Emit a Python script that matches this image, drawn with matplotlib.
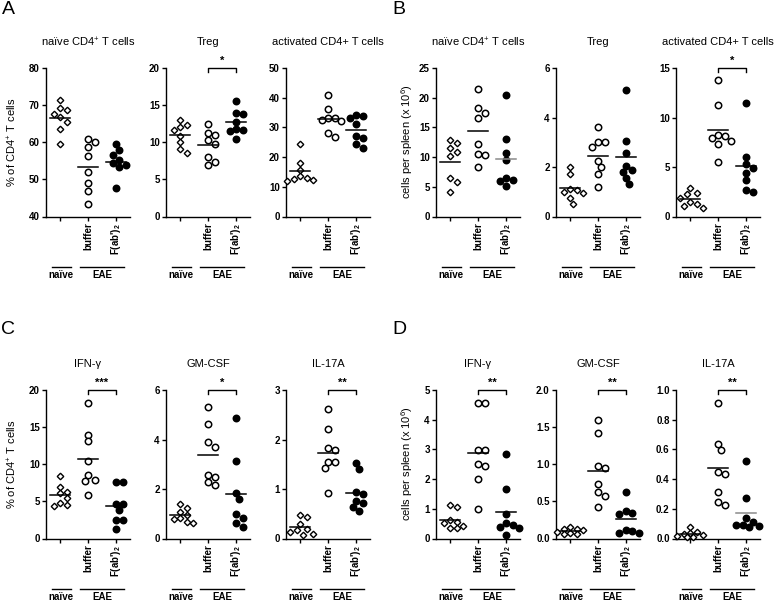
import numpy as np
import matplotlib.pyplot as plt

plt.rcParams['font.family'] = ['Liberation Sans', 'DejaVu Sans']
plt.rcParams['mathtext.fontset'] = 'custom'
plt.rcParams['mathtext.rm'] = 'Liberation Sans'
plt.rcParams['mathtext.it'] = 'Liberation Sans:italic'
plt.rcParams['mathtext.bf'] = 'Liberation Sans:bold'

# ---- data (8 mice per group) ----
# A: % of CD4+ T cells
a1_naive = [71.5, 69.1, 68.8, 67.7, 66.9, 65.5, 63.5, 59.6]
a1_buffer = [61.0, 60.0, 58.7, 56.2, 52.0, 49.0, 46.8, 43.3]
a1_fab = [59.5, 57.8, 56.5, 55.2, 54.5, 53.8, 53.3, 47.8]
a2_naive = [13.0, 12.3, 12.0, 11.6, 10.9, 10.0, 9.1, 8.5]
a2_buffer = [12.5, 11.3, 11.0, 10.3, 9.7, 8.0, 7.4, 7.0]
a2_fab = [15.6, 14.0, 13.8, 12.7, 11.8, 11.6, 11.5, 10.5]
a3_naive = [24.3, 18.0, 15.8, 13.5, 13.0, 12.6, 12.3, 12.0]
a3_buffer = [41.0, 36.3, 33.2, 33.0, 32.5, 32.0, 28.1, 26.8]
a3_fab = [34.1, 33.9, 33.0, 31.3, 27.0, 26.5, 24.3, 23.2]

# B: cells per spleen (x 10^6)
b1_naive = [12.8, 12.3, 11.5, 10.9, 10.2, 6.4, 5.8, 4.1]
b1_buffer = [21.4, 18.2, 17.5, 16.6, 12.2, 10.6, 10.3, 8.35]
b1_fab = [20.4, 13.1, 10.7, 9.5, 6.4, 6.2, 5.9, 5.1]
b2_naive = [1.98, 1.70, 1.13, 1.06, 1.0, 0.95, 0.75, 0.5]
b2_buffer = [3.62, 2.99, 2.99, 2.8, 2.25, 2.02, 1.73, 1.2]
b2_fab = [5.1, 3.05, 2.55, 2.03, 1.87, 1.8, 1.57, 1.33]
b3_naive = [2.9, 2.4, 2.25, 1.9, 1.5, 1.25, 1.1, 0.85]
b3_buffer = [13.8, 11.3, 8.2, 8.1, 7.9, 7.6, 7.3, 5.5]
b3_fab = [11.5, 6.0, 5.3, 4.9, 4.4, 3.65, 2.7, 2.5]

# C: % of CD4+ T cells (cytokines)
c1_naive = [8.4, 7.0, 6.3, 6.1, 5.4, 4.8, 4.5, 4.4]
c1_buffer = [18.3, 14.0, 13.1, 10.4, 8.5, 7.9, 7.7, 5.8]
c1_fab = [7.6, 7.6, 4.7, 4.7, 3.9, 2.5, 2.5, 1.3]
c2_naive = [1.38, 1.25, 1.08, 0.94, 0.81, 0.77, 0.67, 0.63]
c2_buffer = [5.32, 4.62, 3.91, 3.71, 2.56, 2.49, 2.29, 2.18]
c2_fab = [4.85, 3.13, 1.85, 1.59, 0.97, 0.84, 0.63, 0.47]
c3_naive = [0.48, 0.44, 0.30, 0.20, 0.17, 0.13, 0.10, 0.08]
c3_buffer = [2.62, 2.21, 1.82, 1.79, 1.55, 1.54, 1.43, 0.91]
c3_fab = [1.52, 1.40, 0.94, 0.89, 0.76, 0.72, 0.63, 0.56]

# D: cells per spleen (x 10^6) (cytokines)
d1_naive = [1.12, 1.07, 0.62, 0.56, 0.51, 0.43, 0.37, 0.34]
d1_buffer = [4.57, 4.55, 2.98, 2.98, 2.5, 2.45, 2.02, 0.99]
d1_fab = [2.84, 1.66, 0.84, 0.51, 0.47, 0.39, 0.34, 0.11]
d2_naive = [0.16, 0.13, 0.126, 0.11, 0.09, 0.08, 0.067, 0.054]
d2_buffer = [1.6, 1.42, 0.98, 0.955, 0.73, 0.63, 0.57, 0.43]
d2_fab = [0.63, 0.37, 0.35, 0.33, 0.12, 0.10, 0.08, 0.07]
d3_naive = [0.079, 0.045, 0.034, 0.027, 0.022, 0.018, 0.013, 0.009]
d3_buffer = [0.91, 0.634, 0.596, 0.45, 0.434, 0.315, 0.247, 0.225]
d3_fab = [0.52, 0.27, 0.135, 0.112, 0.094, 0.09, 0.083, 0.079]

cell_titles = ['naïve CD4$^{+}$ T cells', 'Treg', 'activated CD4+ T cells']
cyto_titles = ['IFN-γ', 'GM-CSF', 'IL-17A']
xtick_labels = ['', 'buffer', r"F(ab')$_{\mathbf{2}}$"]
pct_label = '% of CD4$^{+}$ T cells'
count_label = 'cells per spleen (x 10$^{6}$)'

# (ymin, ymax, step, decimals) per panel
a_axes = [(40, 80, 10, 0), (0, 20, 5, 0), (0, 50, 10, 0)]
b_axes = [(0, 25, 5, 0), (0, 6, 2, 0), (0, 15, 5, 0)]
c_axes = [(0, 20, 5, 0), (0, 6, 2, 0), (0, 3, 1, 0)]
d_axes = [(0, 5, 1, 0), (0, 2, 0.5, 1), (0, 1, 0.2, 1)]

a_stars = [None, '*', None]
b_stars = [None, None, '*']
c_stars = ['***', '*', '**']
d_stars = ['**', '**', '**']

# ---- layout (pixels) ----
W, H = 778, 601
col_left = [46, 166, 286, 436, 556, 676]
row_top = [68, 390]
AX_W, AX_H = 84, 148.5
PX_PER_X = AX_W / 3.0


def swarm(vals, px_per_y, d=6.5, max_k=4):
    # simple beeswarm: place points top-down, nudging sideways on collision,
    # with a limited spread (points pile up when crowded, like the original)
    vals = np.asarray(vals, float)
    xs = np.zeros(len(vals))
    placed = []
    cands = [0.0]
    for k in range(1, max_k + 1):
        cands += [k * d / 2, -k * d / 2]
    for i in np.argsort(-vals):
        y = vals[i] * px_per_y
        best, best_gap = 0.0, -1
        for c in cands:
            gap = min([np.hypot(c - px, y - py) for px, py in placed] or [99])
            if gap >= d:
                best = c
                break
            if gap > best_gap + 0.5:
                best, best_gap = c, gap
        placed.append((best, y))
        xs[i] = best / PX_PER_X
    return xs


def draw_panel(left, top, groups, title, yspec, star, mean_gray=()):
    ymin, ymax, step, dec = yspec
    ax = fig.add_axes([left / W, 1 - (top + AX_H) / H, AX_W / W, AX_H / H])
    px_per_y = AX_H / (ymax - ymin)

    styles = [dict(marker='D', ms=3.3, mfc='white', mec='black', mew=1.0),
              dict(marker='o', ms=4.6, mfc='white', mec='black', mew=1.1),
              dict(marker='o', ms=4.6, mfc='black', mec='black', mew=1.1)]
    for g, vals in enumerate(groups):
        xo = swarm(vals, px_per_y)
        ax.plot(g + xo, vals, ls='none', clip_on=False, zorder=3, **styles[g])
        m = np.mean(vals)
        col = '#8a8a8a' if g in mean_gray else 'black'
        ax.plot([g - 0.36, g + 0.36], [m, m], color=col, lw=1.1, zorder=4)

    ax.set_xlim(-0.5, 2.5)
    ax.set_ylim(ymin, ymax)
    ticks = np.arange(ymin, ymax + step / 2, step)
    ax.set_yticks(ticks)
    ax.set_yticklabels([f'{t:.{dec}f}' for t in ticks], fontweight='bold', fontsize=7)
    ax.set_xticks([0, 1, 2])
    ax.set_xticklabels(xtick_labels, rotation=90, fontweight='bold', fontsize=7)
    for s in ['top', 'right']:
        ax.spines[s].set_visible(False)
    for s in ['left', 'bottom']:
        ax.spines[s].set_linewidth(1.0)
    ax.tick_params(direction='out', length=3, width=1.0, pad=1.5)

    # group bars below the axis
    tr = ax.get_xaxis_transform()
    yl = -50 / AX_H
    ax.plot([-0.3, 0.38], [yl, yl], color='black', lw=1.0, transform=tr, clip_on=False)
    ax.plot([0.71, 2.29], [yl, yl], color='black', lw=1.0, transform=tr, clip_on=False)
    ax.text(0.04, yl - 9 / AX_H, 'naïve', transform=tr, ha='center', va='center',
            fontsize=7, fontweight='bold')
    ax.text(1.5, yl - 9 / AX_H, 'EAE', transform=tr, ha='center', va='center',
            fontsize=7, fontweight='bold')

    # significance bracket buffer vs F(ab')2
    if star:
        h = 3.5 / AX_H
        ax.plot([1, 1, 2, 2], [1 - h, 1, 1, 1 - h], color='black', lw=1.0,
                transform=tr, clip_on=False)
        ax.text(1.5, 1 + 7 / AX_H, star, transform=tr, ha='center', va='center',
                fontsize=8, fontweight='bold')

    fig.text((left + AX_W / 2) / W, 1 - (top - 26) / H, title, ha='center',
             va='center', fontsize=8)
    return ax


fig = plt.figure(figsize=(W / 100, H / 100), dpi=100)

a_groups = [(a1_naive, a1_buffer, a1_fab), (a2_naive, a2_buffer, a2_fab), (a3_naive, a3_buffer, a3_fab)]
b_groups = [(b1_naive, b1_buffer, b1_fab), (b2_naive, b2_buffer, b2_fab), (b3_naive, b3_buffer, b3_fab)]
c_groups = [(c1_naive, c1_buffer, c1_fab), (c2_naive, c2_buffer, c2_fab), (c3_naive, c3_buffer, c3_fab)]
d_groups = [(d1_naive, d1_buffer, d1_fab), (d2_naive, d2_buffer, d2_fab), (d3_naive, d3_buffer, d3_fab)]

for i in range(3):
    draw_panel(col_left[i], row_top[0], a_groups[i], cell_titles[i], a_axes[i], a_stars[i])
    draw_panel(col_left[3 + i], row_top[0], b_groups[i], cell_titles[i], b_axes[i], b_stars[i],
               mean_gray=(2,) if i == 0 else ())
    draw_panel(col_left[i], row_top[1], c_groups[i], cyto_titles[i], c_axes[i], c_stars[i])
    draw_panel(col_left[3 + i], row_top[1], d_groups[i], cyto_titles[i], d_axes[i], d_stars[i],
               mean_gray=(2,) if i == 2 else ())

# y axis labels
for x, y, lab in [(12, 142, pct_label), (407, 142, count_label),
                  (12, 464, pct_label), (407, 464, count_label)]:
    fig.text(x / W, 1 - y / H, lab, rotation=90, ha='center', va='center', fontsize=8)

# panel letters
for x, y, lab in [(8, 10, 'A'), (399, 10, 'B'), (8, 330, 'C'), (399, 330, 'D')]:
    fig.text(x / W, 1 - y / H, lab, ha='center', va='center', fontsize=14)

fig.savefig('out.png', dpi=100)
